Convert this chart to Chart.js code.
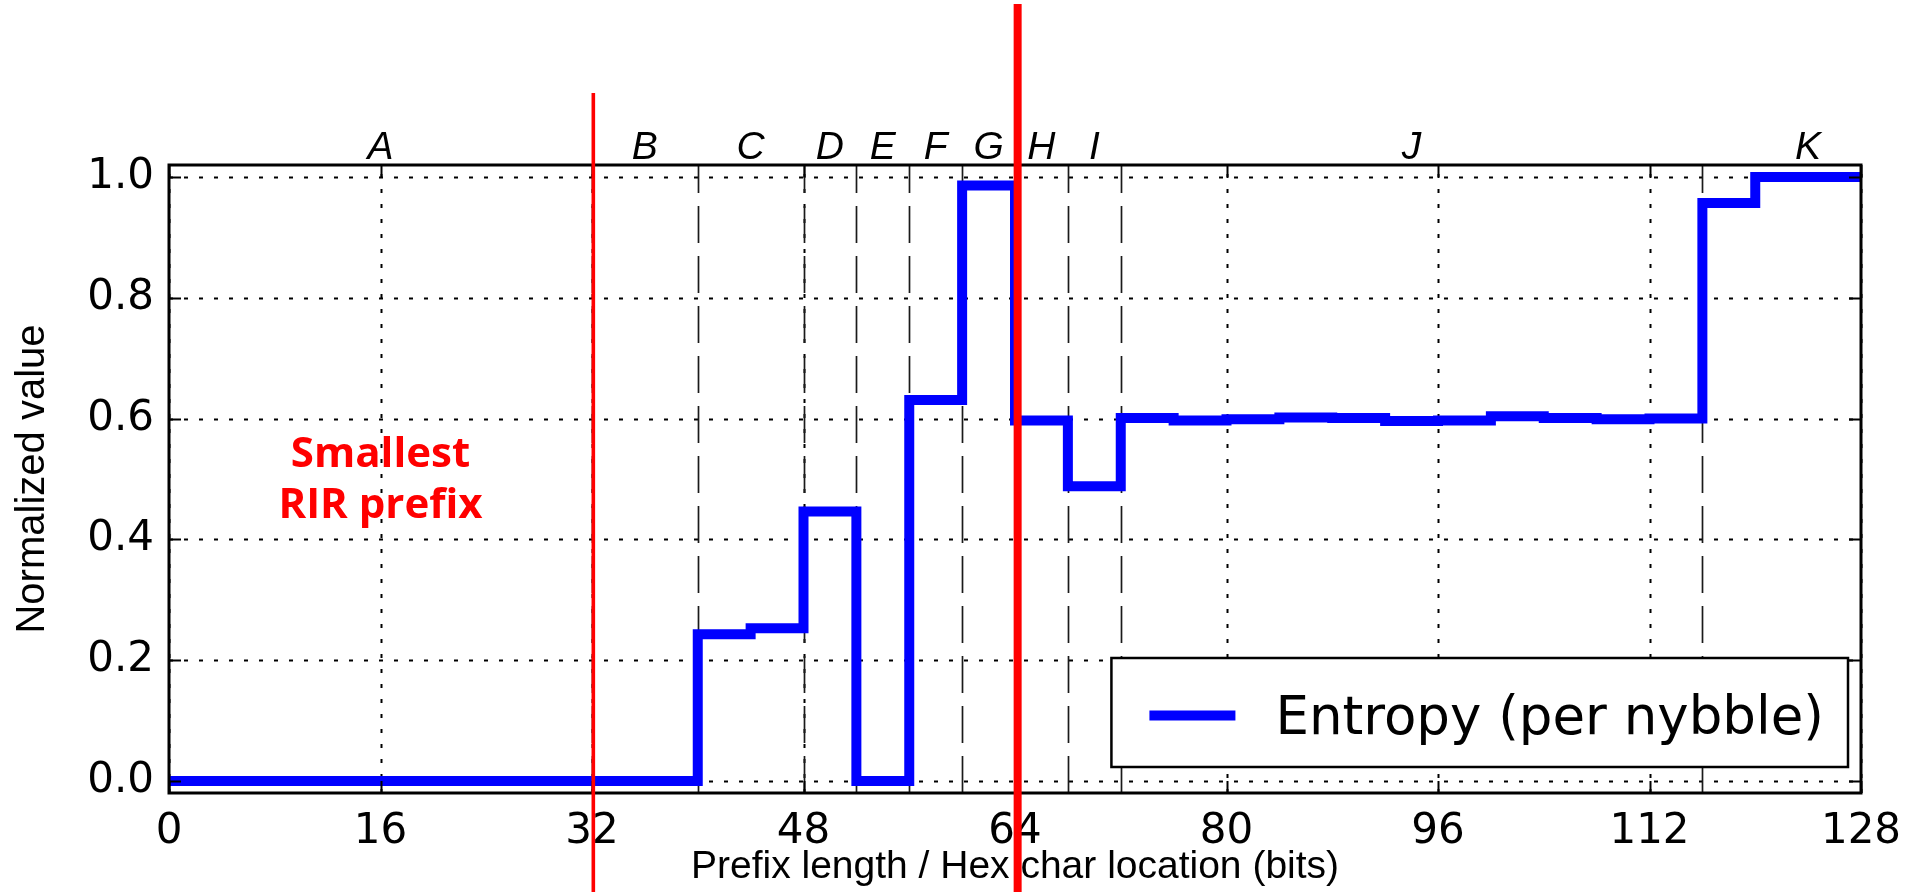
<!DOCTYPE html>
<html>
<head>
<meta charset="utf-8">
<script src="https://cdn.jsdelivr.net/npm/chart.js@4.4.0/dist/chart.umd.min.js"></script>
<style>
  html, body { margin: 0; padding: 0; background: #ffffff; }
  #wrap { width: 1915px; height: 892px; }
</style>
</head>
<body>
<div id="wrap"><canvas id="c" width="1915" height="892"></canvas></div>
<script>
// ---- data ----
const bitPositions = [0, 4, 8, 12, 16, 20, 24, 28, 32, 36, 40, 44, 48, 52, 56, 60, 64,
                      68, 72, 76, 80, 84, 88, 92, 96, 100, 104, 108, 112, 116, 120, 124, 128];
const entropyValues = [0, 0, 0, 0, 0, 0, 0, 0, 0, 0, 0.243, 0.253, 0.446, 0, 0.631, 0.986, 0.597,
                       0.488, 0.601, 0.597, 0.599, 0.602, 0.601, 0.596, 0.597, 0.604, 0.601, 0.599, 0.600, 0.957, 1.0, 1.0, 1.0];
const seriesLabel = 'Entropy (per nybble)';
const xTickValues = [0, 16, 32, 48, 64, 80, 96, 112, 128];
const xTickLabels = ['0', '16', '32', '48', '64', '80', '96', '112', '128'];
const yTickValues = [0, 0.2, 0.4, 0.6, 0.8, 1.0];
const yTickLabels = ['0.0', '0.2', '0.4', '0.6', '0.8', '1.0'];
const xRange = [0, 128];
const yRange = [-0.02, 1.02];
const segmentNames = ['A', 'B', 'C', 'D', 'E', 'F', 'G', 'H', 'I', 'J', 'K'];
const segmentLabelPositions = [16, 36, 44, 50, 54, 58, 62, 66, 70, 94, 124];
const segmentBoundaries = [32, 40, 48, 52, 56, 60, 64, 68, 72, 116];
const rirLinePositions = [32.1, 64.2];
const annotationLines = ['Smallest', 'RIR prefix'];
const annotationAnchor = [16, 0.5];
const xTitle = 'Prefix length / Hex char location (bits)';
const yTitle = 'Normalized value';

// ---- decorations drawn through the chart scales ----
const decor = {
  id: 'decor',
  beforeDatasetsDraw(chart) {
    const { ctx, chartArea: a, scales: { x, y } } = chart;
    ctx.save();
    // dotted major grid
    ctx.strokeStyle = '#000';
    ctx.lineWidth = 2;
    ctx.setLineDash([4, 11]);
    xTickValues.forEach(v => {
      const px = Math.round(x.getPixelForValue(v)) + 0.5;
      ctx.beginPath(); ctx.moveTo(px, a.bottom); ctx.lineTo(px, a.top); ctx.stroke();
    });
    yTickValues.forEach(v => {
      const py = Math.round(y.getPixelForValue(v)) + 0.5;
      ctx.beginPath(); ctx.moveTo(a.left, py); ctx.lineTo(a.right, py); ctx.stroke();
    });
    // dashed segment boundaries
    ctx.strokeStyle = '#1a1a1a';
    ctx.lineWidth = 1.7;
    ctx.setLineDash([37, 13]);
    segmentBoundaries.forEach(v => {
      const px = Math.round(x.getPixelForValue(v)) + 0.5;
      ctx.beginPath(); ctx.moveTo(px, a.bottom); ctx.lineTo(px, a.top); ctx.stroke();
    });
    ctx.restore();
  },
  afterDatasetsDraw(chart) {
    const { ctx, chartArea: a, scales: { x, y } } = chart;
    const ds = chart.data.datasets[0];
    ctx.save();
    // legend box (lower right)
    ctx.font = '53px "DejaVu Sans"';
    const tw = ctx.measureText(ds.label).width;
    const bw = 164 + tw + 24, bh = 109;
    const bx = a.right - 13 - bw, by = a.bottom - 26 - bh;
    ctx.fillStyle = '#fff';
    ctx.fillRect(bx, by, bw, bh);
    ctx.strokeStyle = '#000'; ctx.lineWidth = 2.5; ctx.setLineDash([]);
    ctx.strokeRect(bx, by, bw, bh);
    const cy = by + bh / 2 + 3;
    ctx.strokeStyle = ds.borderColor; ctx.lineWidth = ds.borderWidth; ctx.lineCap = 'butt';
    ctx.beginPath(); ctx.moveTo(bx + 38, cy); ctx.lineTo(bx + 124, cy); ctx.stroke();
    ctx.fillStyle = '#000'; ctx.textAlign = 'left'; ctx.textBaseline = 'alphabetic';
    ctx.fillText(ds.label, bx + 164, cy + 18);
    // frame
    ctx.strokeStyle = '#000'; ctx.lineWidth = 3;
    ctx.strokeRect(a.left, a.top, a.right - a.left, a.bottom - a.top);
    // inward ticks on all sides
    ctx.lineWidth = 2;
    const tl = 12;
    xTickValues.forEach(v => {
      const px = Math.round(x.getPixelForValue(v)) + 0.5;
      ctx.beginPath(); ctx.moveTo(px, a.bottom); ctx.lineTo(px, a.bottom - tl); ctx.stroke();
      ctx.beginPath(); ctx.moveTo(px, a.top); ctx.lineTo(px, a.top + tl); ctx.stroke();
    });
    yTickValues.forEach(v => {
      const py = Math.round(y.getPixelForValue(v)) + 0.5;
      ctx.beginPath(); ctx.moveTo(a.left, py); ctx.lineTo(a.left + tl, py); ctx.stroke();
      ctx.beginPath(); ctx.moveTo(a.right, py); ctx.lineTo(a.right - tl, py); ctx.stroke();
    });
    ctx.restore();
  },
  afterDraw(chart) {
    const { ctx, chartArea: a, scales: { x, y }, height } = chart;
    ctx.save();
    // segment letters above the plot
    ctx.fillStyle = '#000';
    ctx.font = 'italic 39px "Liberation Sans"';
    ctx.textAlign = 'center'; ctx.textBaseline = 'alphabetic';
    segmentNames.forEach((n, i) => {
      ctx.fillText(n, x.getPixelForValue(segmentLabelPositions[i]), a.top - 6);
    });
    // red RIR lines
    ctx.strokeStyle = '#ff0000';
    const tops = [93, 4];
    const widths = [3.6, 8];
    rirLinePositions.forEach((v, i) => {
      const px = x.getPixelForValue(v);
      ctx.lineWidth = widths[i];
      ctx.beginPath(); ctx.moveTo(px, tops[i]); ctx.lineTo(px, height); ctx.stroke();
    });
    // red annotation text
    ctx.fillStyle = '#ff0000';
    ctx.font = 'bold 42px "Open Sans"';
    ctx.textAlign = 'center'; ctx.textBaseline = 'alphabetic';
    const ax = x.getPixelForValue(annotationAnchor[0]);
    const ay = y.getPixelForValue(annotationAnchor[1]);
    ctx.fillText(annotationLines[0], ax, ay - 12);
    ctx.fillText(annotationLines[1], ax, ay + 39);
    ctx.restore();
  }
};

new Chart(document.getElementById('c'), {
  type: 'line',
  data: {
    datasets: [{
      label: seriesLabel,
      data: bitPositions.map((b, i) => ({ x: b, y: entropyValues[i] })),
      stepped: true,
      borderColor: '#0000ff',
      borderWidth: 10,
      borderJoinStyle: 'miter',
      borderCapStyle: 'butt',
      pointRadius: 0,
      fill: false
    }]
  },
  options: {
    responsive: false,
    animation: false,
    devicePixelRatio: 1,
    layout: { padding: { left: 0, right: 54, top: 165, bottom: 0 } },
    plugins: { legend: { display: false }, tooltip: { enabled: false } },
    scales: {
      x: {
        type: 'linear', min: xRange[0], max: xRange[1],
        grid: { display: false }, border: { display: false },
        afterBuildTicks: s => { s.ticks = xTickValues.map(v => ({ value: v })); },
        afterFit: s => { s.height = 99; },
        ticks: {
          autoSkip: false, maxRotation: 0, padding: 6, color: '#000',
          font: { family: 'DejaVu Sans', size: 42 },
          callback: (v) => xTickLabels[xTickValues.indexOf(v)]
        },
        title: {
          display: true, text: xTitle, color: '#000',
          font: { family: 'Liberation Sans', size: 39 },
          padding: { top: 0, bottom: 1 }
        }
      },
      y: {
        type: 'linear', min: yRange[0], max: yRange[1],
        grid: { display: false }, border: { display: false },
        afterBuildTicks: s => { s.ticks = yTickValues.map(v => ({ value: v })); },
        afterFit: s => { s.width = 169; },
        ticks: {
          autoSkip: false, padding: 7, color: '#000',
          font: { family: 'DejaVu Sans', size: 42 },
          callback: (v) => yTickLabels[yTickValues.indexOf(v)]
        },
        title: {
          display: true, text: yTitle, color: '#000',
          font: { family: 'Liberation Sans', size: 40 },
          padding: { top: 9, bottom: 0 }
        }
      }
    }
  },
  plugins: [decor]
});
</script>
</body>
</html>
